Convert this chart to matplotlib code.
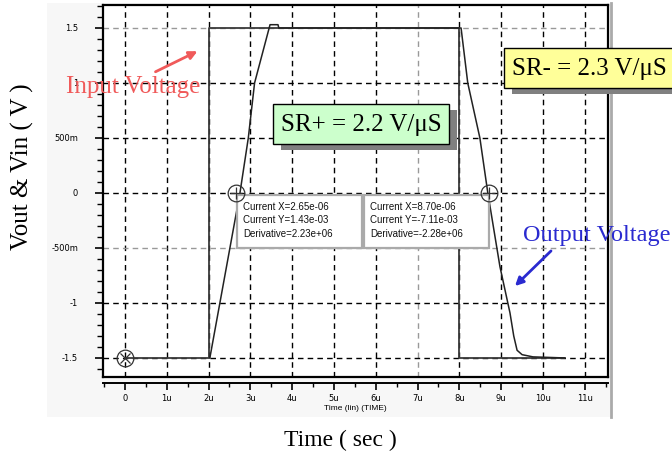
import matplotlib
matplotlib.use("Agg")
import matplotlib.pyplot as plt
from matplotlib.patches import Rectangle
from matplotlib.ticker import MultipleLocator

# data (time in us, volts)
t_in = [0, 2.0, 2.0, 8.0, 8.0, 10.5]
v_in = [-1.5, -1.5, 1.5, 1.5, -1.5, -1.5]
t_out = [2.03, 2.27, 2.51, 2.75, 2.95, 3.1, 3.47, 3.66, 3.68, 4.0, 8.0, 8.04, 8.2, 8.49,
         8.68, 8.97, 9.21, 9.3, 9.38, 9.5, 9.76, 10.53]
v_out = [-1.5, -1.0, -0.5, 0.0, 0.5, 1.0, 1.53, 1.53, 1.5, 1.5, 1.5, 1.5, 1.0, 0.5,
         0.0, -0.67, -1.09, -1.3, -1.43, -1.47, -1.49, -1.5]
cursor_t = [2.65, 8.70]
cursor_v = [0.0, 0.0]
cursor_box_x = [2.68, 5.72]
cursor_text = ["Current X=2.65e-06\nCurrent Y=1.43e-03\nDerivative=2.23e+06",
               "Current X=8.70e-06\nCurrent Y=-7.11e-03\nDerivative=-2.28e+06"]
x_ticks = list(range(12))
x_labels = ["0", "1u", "2u", "3u", "4u", "5u", "6u", "7u", "8u", "9u", "10u", "11u"]
y_ticks = [-1.5, -1, -0.5, 0, 0.5, 1, 1.5]
y_labels = ["-1.5", "-1", "-500m", "0", "500m", "1", "1.5"]

W, H = 672, 459
serif = "Liberation Serif"
sans = "Liberation Sans"


def fp(x, y):
    # pixel (from top-left) -> figure fraction
    return x / W, 1 - y / H


fig = plt.figure(figsize=(6.72, 4.59), dpi=100)

# light panel behind the scope plot
px, py = fp(47, 417)
fig.patches.append(Rectangle((px, py), (610 - 47) / W, (417 - 3) / H, transform=fig.transFigure,
                             facecolor="#f7f7f7", edgecolor="none", zorder=-5))
fig.add_artist(plt.Line2D([611 / W, 611 / W], [1 - 3 / H, 1 - 417 / H], transform=fig.transFigure,
                          color="#aaaaaa", lw=2, zorder=-4))

l, b = fp(103, 377)
ax = fig.add_axes([l, b, (608 - 103) / W, (377 - 5) / H])
ax.set_facecolor("white")
ax.set_xlim(-0.526, 11.555)
ax.set_ylim(-1.673, 1.709)

for t in x_ticks:
    c = "#999999" if t == 7 else "black"
    ax.axvline(t, color=c, lw=1.0, dashes=(4, 3), zorder=1)
for v in y_ticks:
    c = "#999999" if v in (-0.5, 1.5) else "black"
    ax.axhline(v, color=c, lw=1.0, dashes=(4, 3), zorder=1)

ax.plot(t_in, v_in, color="#3a3a3a", lw=1.3, zorder=3)
ax.plot(t_out, v_out, color="#222222", lw=1.1, zorder=4)

# cursor markers
ax.plot(cursor_t, cursor_v, "o", ms=12, mfc="none", mec="#333333", mew=0.9, zorder=8)
ax.plot(cursor_t, cursor_v, "+", ms=9, mec="#333333", mew=0.9, zorder=8)
ax.plot([t_in[0]], [v_in[0]], "o", ms=12, mfc="none", mec="#333333", mew=0.9, zorder=5)
ax.plot([t_in[0]], [v_in[0]], "x", ms=7, mec="#333333", mew=0.9, zorder=5)

# cursor readout boxes
for x0, txt in zip(cursor_box_x, cursor_text):
    ax.add_patch(Rectangle((x0, -0.5), 2.98, 0.48, facecolor="white", edgecolor="#aaaaaa",
                           lw=1.6, zorder=6))
    ax.text(x0 + 0.14, -0.25, txt, fontsize=7, family=sans, va="center", ha="left",
            linespacing=1.45, zorder=7, color="#111111")

ax.yaxis.set_ticks(y_ticks)
ax.yaxis.set_ticklabels(y_labels)
ax.yaxis.set_minor_locator(MultipleLocator(0.1))
ax.tick_params(axis="y", which="major", direction="out", length=6, width=1.2, labelsize=6, pad=12)
ax.tick_params(axis="y", which="minor", direction="out", length=4, width=1.0)
ax.set_xticks([])
for s in ax.spines.values():
    s.set_linewidth(1.6)

# separate time axis below the plot
l2, b2 = fp(103, 383)
axb = fig.add_axes([l2, b2, (608 - 103) / W, 0.001])
axb.set_xlim(ax.get_xlim())
axb.set_yticks([])
axb.patch.set_visible(False)
for k in ["top", "left", "right"]:
    axb.spines[k].set_visible(False)
axb.spines["bottom"].set_linewidth(1.4)
axb.set_xticks(x_ticks)
axb.set_xticklabels(x_labels)
axb.xaxis.set_minor_locator(MultipleLocator(0.5))
axb.tick_params(axis="x", which="major", direction="out", length=5, width=1.2, labelsize=6, pad=3)
axb.tick_params(axis="x", which="minor", direction="out", length=3, width=1.0)
axb.set_xlabel("Time (lin) (TIME)", fontsize=6, family=sans, labelpad=1)

# outer labels
fig.text(*fp(22, 167), "Vout & Vin ( V )", rotation=90, fontsize=18, family=serif,
         ha="center", va="center")
fig.text(*fp(340, 440), "Time ( sec )", fontsize=17, family=serif, ha="center", va="center")

# annotations
fig.text(*fp(133, 87), "Input Voltage", fontsize=18, family=serif, color="#f05a5a",
         ha="center", va="center", zorder=12)
ax.annotate("", xy=fp(200, 50), xytext=fp(153, 73), xycoords="figure fraction",
            textcoords="figure fraction",
            arrowprops=dict(arrowstyle="-|>", color="#f05a5a", lw=2, mutation_scale=12))
fig.text(*fp(597, 236), "Output Voltage", fontsize=17.5, family=serif, color="#2a2ad0",
         ha="center", va="center", zorder=12)
ax.annotate("", xy=fp(513, 288), xytext=fp(553, 249), xycoords="figure fraction",
            textcoords="figure fraction",
            arrowprops=dict(arrowstyle="-|>", color="#2a2ad0", lw=2, mutation_scale=12))


def label_box(x0, y0, x1, y1, text, color):
    sx, sy = fp(x0 + 8, y1 + 6)
    fig.patches.append(Rectangle((sx, sy), (x1 - x0) / W, (y1 - y0) / H, transform=fig.transFigure,
                                 facecolor="#808080", edgecolor="none", zorder=8))
    bx, by = fp(x0, y1)
    fig.patches.append(Rectangle((bx, by), (x1 - x0) / W, (y1 - y0) / H, transform=fig.transFigure,
                                 facecolor=color, edgecolor="black", lw=1.0, zorder=9))
    fig.text(*fp((x0 + x1) / 2, (y0 + y1) / 2 + 1), text, fontsize=18, family=serif,
             ha="center", va="center", zorder=10)


label_box(273, 104, 449, 144, "SR+ = 2.2 V/\u03bcS", "#ccffcc")
label_box(504, 48, 675, 88, "SR- = 2.3 V/\u03bcS", "#ffff99")

fig.savefig("out.png", dpi=100)
